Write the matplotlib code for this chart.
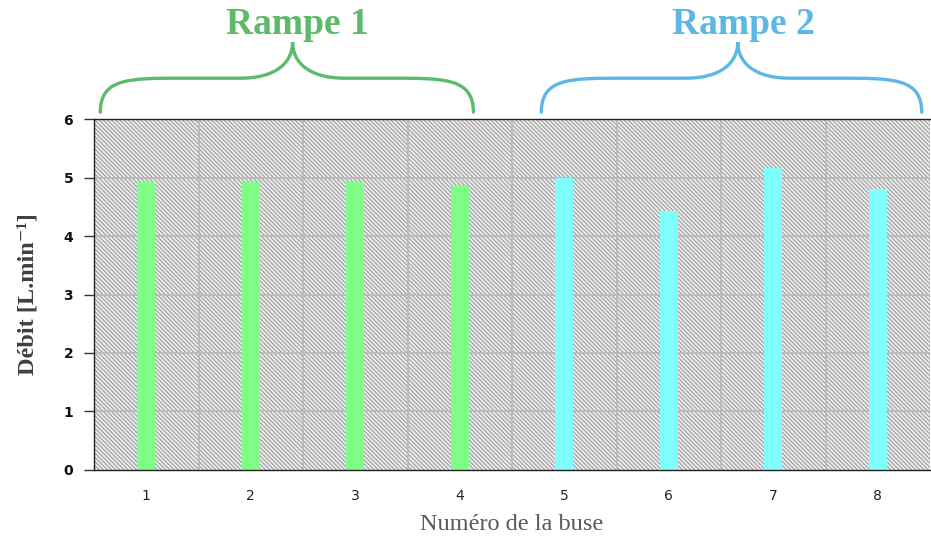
import matplotlib
matplotlib.use("Agg")
import matplotlib.pyplot as plt
from matplotlib.patches import Rectangle, PathPatch
from matplotlib.path import Path
from matplotlib.transforms import blended_transform_factory

buses = [1, 2, 3, 4, 5, 6, 7, 8]
debit = [4.92, 4.92, 4.92, 4.87, 4.99, 4.43, 5.16, 4.80]
bar_colors = ["#80fd86"] * 4 + ["#7ffffb"] * 4
ramp_labels = ["Rampe 1", "Rampe 2"]
ramp_colors = ["#5cba6a", "#5cb7e6"]
ramp_spans = [(0.56, 4.13, 2.40), (4.78, 8.42, 6.66)]  # left, right, tip (data x)

plt.rcParams["hatch.linewidth"] = 0.9

fig = plt.figure(figsize=(9.31, 5.37), dpi=100)
ax = fig.add_axes([0.101, 0.125, 0.898, 0.653])

# hatched grey background
bg = Rectangle((0, 0), 1, 1, transform=ax.transAxes, facecolor="#efefef",
               edgecolor="#a4a4a4", linewidth=0, hatch="\\" * 8, zorder=0)
ax.add_patch(bg)

ax.set_xlim(0.5, 8.5)
ax.set_ylim(0, 6)

for v in range(1, 7):
    ax.axhline(v, color="#b8b8b8", lw=1.2, zorder=1)
for b in buses[:-1]:
    ax.axvline(b + 0.5, color="#b8b8b8", lw=1.2, zorder=1)

ax.bar(buses, debit, width=0.17, color=bar_colors, zorder=2)

ax.set_xticks(buses)
ax.set_xticklabels([str(b) for b in buses], fontsize=10, color="#222222")
ax.tick_params(axis="x", length=0, pad=14)
ax.set_yticks(range(0, 7))
ax.set_yticklabels([str(v) for v in range(0, 7)], fontsize=10,
                   fontweight="bold", color="#111111")
ax.tick_params(axis="y", length=7, width=1, color="#333333", pad=8)

for s in ["left", "bottom", "top"]:
    ax.spines[s].set_color("#222222")
    ax.spines[s].set_linewidth(1.0)
ax.spines["right"].set_visible(False)

ax.set_ylabel("Débit [L.min⁻¹]", family=["Liberation Serif", "DejaVu Serif"],
              fontweight="bold", fontsize=17.5, color="#404040")
ax.yaxis.set_label_coords(-0.067, 0.5)
ax.set_xlabel("Numéro de la buse", family="Liberation Serif", fontsize=17.5,
              color="#595959")
ax.xaxis.set_label_coords(0.5, -0.125)

# braces above the plot
trans = blended_transform_factory(ax.transData, ax.transAxes)
y_end, y_mid, y_tip = 1.02, 1.117, 1.22
for (x0, x1, xm), lab, col in zip(ramp_spans, ramp_labels, ramp_colors):
    r = 0.78
    r2 = 0.5
    verts = [
        (x0, y_end), (x0, y_mid), (x0 + r * 0.35, y_mid), (x0 + r, y_mid),
        (xm - r2, y_mid),
        (xm - r2 * 0.3, y_mid), (xm, y_mid + (y_tip - y_mid) * 0.45), (xm, y_tip),
        (xm, y_mid + (y_tip - y_mid) * 0.45), (xm + r2 * 0.3, y_mid), (xm + r2, y_mid),
        (x1 - r, y_mid),
        (x1 - r * 0.35, y_mid), (x1, y_mid), (x1, y_end),
    ]
    codes = [Path.MOVETO, Path.CURVE4, Path.CURVE4, Path.CURVE4,
             Path.LINETO,
             Path.CURVE4, Path.CURVE4, Path.CURVE4,
             Path.CURVE4, Path.CURVE4, Path.CURVE4,
             Path.LINETO,
             Path.CURVE4, Path.CURVE4, Path.CURVE4]
    ax.add_patch(PathPatch(Path(verts, codes), facecolor="none", edgecolor=col,
                           lw=2.4, transform=trans, clip_on=False,
                           capstyle="round"))
    ax.text(xm + 0.05, 1.27, lab, transform=trans, ha="center", va="center",
            family="Liberation Serif", fontweight="bold", fontsize=27,
            color=col, clip_on=False)

fig.savefig("out.png", dpi=100)
